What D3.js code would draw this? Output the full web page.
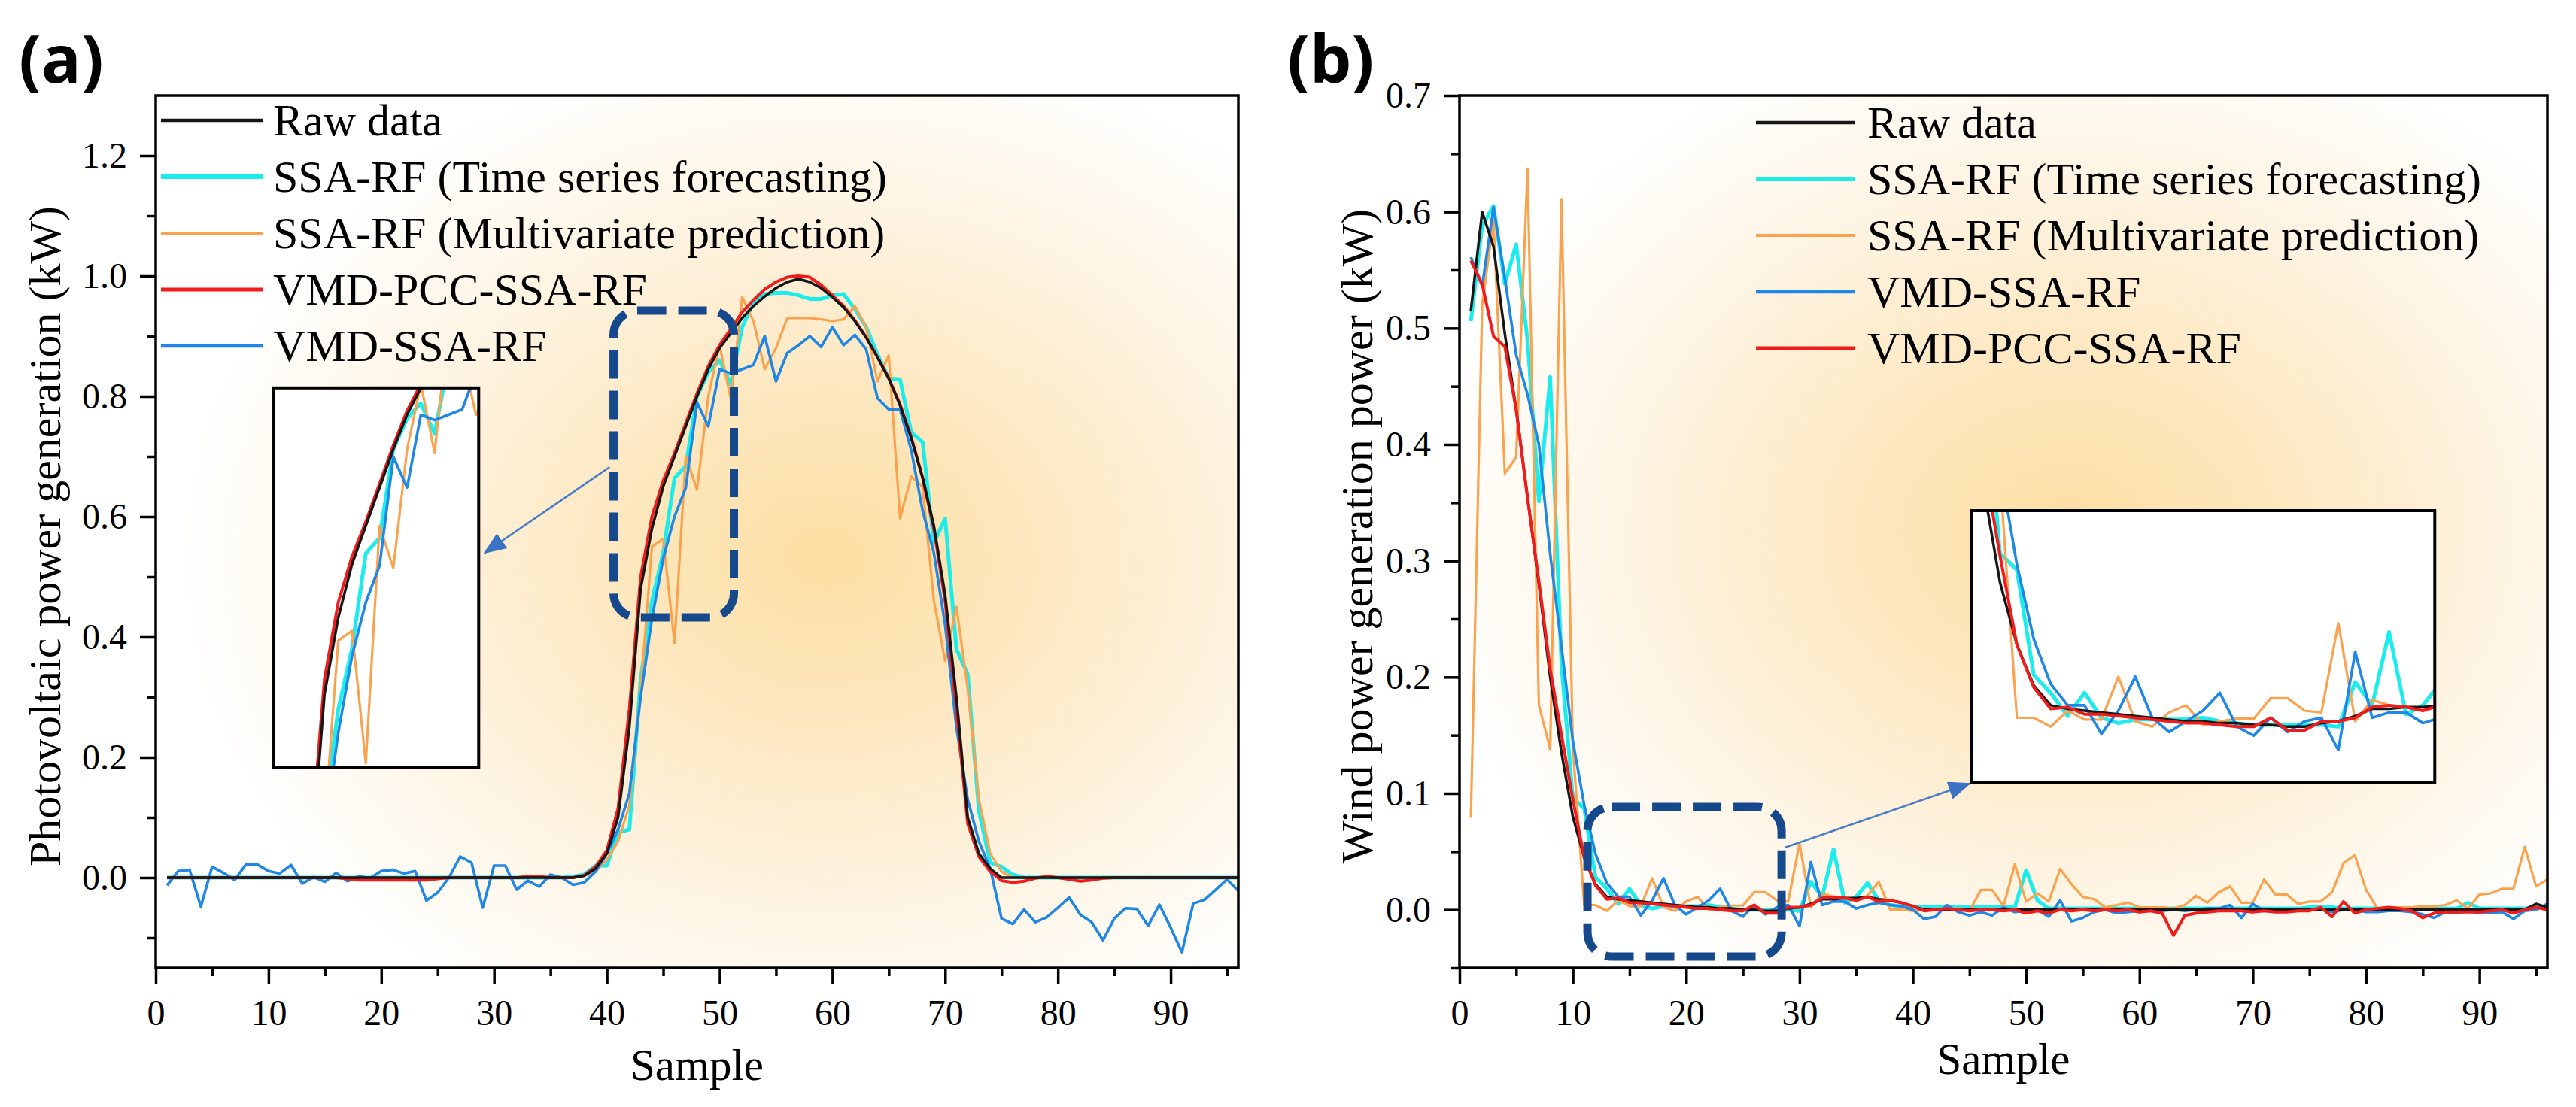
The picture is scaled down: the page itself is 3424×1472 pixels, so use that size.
<!DOCTYPE html>
<html>
<head>
<meta charset="utf-8">
<script src="https://cdn.jsdelivr.net/npm/d3@7"></script>
<style>
  body { margin: 0; background: #fff; }
</style>
</head>
<body>
<svg id="chart" width="3424" height="1472"></svg>
<script>
'use strict';

// ---- data ----
const samples = d3.range(1, 97);               // sample index 1..96
const sampleTicks = [0, 10, 20, 30, 40, 50, 60, 70, 80, 90];
const sampleMinor = [5, 15, 25, 35, 45, 55, 65, 75, 85, 95];
const pvTicks = [0, 0.2, 0.4, 0.6, 0.8, 1.0, 1.2];
const pvMinor = [-0.1, 0.1, 0.3, 0.5, 0.7, 0.9, 1.1];
const windTicks = [0, 0.1, 0.2, 0.3, 0.4, 0.5, 0.6, 0.7];
const windMinor = [-0.05, 0.05, 0.15, 0.25, 0.35, 0.45, 0.55, 0.65];

// (a) photovoltaic
const pvRaw = [
  0, 0, 0, 0, 0, 0, 0, 0, 0, 0,
  0, 0, 0, 0, 0, 0, 0, 0, 0, 0,
  0, 0, 0, 0, 0, 0, 0, 0, 0, 0,
  0, 0, 0, 0, 0, 0, 0, 0.003, 0.015, 0.04,
  0.1, 0.25, 0.48, 0.58, 0.65, 0.70, 0.75, 0.80, 0.845, 0.88,
  0.905, 0.93, 0.95, 0.966, 0.98, 0.99, 0.995, 0.99, 0.98, 0.965,
  0.948, 0.925, 0.898, 0.865, 0.83, 0.785, 0.73, 0.665, 0.585, 0.47,
  0.30, 0.10, 0.04, 0.015, 0, 0, 0, 0, 0, 0,
  0, 0, 0, 0, 0, 0, 0, 0, 0, 0,
  0, 0, 0, 0, 0, 0
];
const pvSsaTs = [
  0, 0, 0, 0, 0, 0, 0, 0, 0, 0,
  0, 0, 0, 0, 0, 0, 0, 0, 0, 0,
  0, 0, 0, 0, 0, 0, 0, 0, 0, 0,
  0, 0, 0, 0, 0, 0, 0.002, 0.005, 0.02, 0.02,
  0.075, 0.08, 0.33, 0.46, 0.54, 0.664, 0.684, 0.8, 0.84, 0.86,
  0.82, 0.915, 0.955, 0.97, 0.972, 0.972, 0.968, 0.962, 0.962, 0.968,
  0.97, 0.945, 0.915, 0.87, 0.83, 0.828, 0.74, 0.724, 0.556, 0.597,
  0.38, 0.338, 0.11, 0.025, 0.018, 0.005, 0, 0, 0, 0,
  0, 0, 0, 0, 0, 0, 0, 0, 0, 0,
  0, 0, 0, 0, 0, 0
];
const pvSsaMv = [
  0, 0, 0, 0, 0, 0, 0, 0, 0, 0,
  0, 0, 0, 0, 0, 0, 0, 0, 0, 0,
  0, 0, 0, 0, 0, 0, 0, 0, 0, 0,
  0, 0, 0, 0, 0, 0, 0, 0.003, 0.01, 0.03,
  0.06, 0.12, 0.31, 0.55, 0.563, 0.39, 0.70, 0.645, 0.8, 0.885,
  0.795, 0.965, 0.925, 0.845, 0.88, 0.93, 0.93, 0.93, 0.928, 0.925,
  0.928, 0.95, 0.915, 0.825, 0.868, 0.597, 0.667, 0.65, 0.46, 0.36,
  0.45, 0.314, 0.13, 0.04, 0.01, 0, 0, 0, 0, 0,
  0, 0, 0, 0, 0, 0, 0, 0, 0, 0,
  0, 0, 0, 0, 0, 0
];
const pvVmdPcc = [
  0, 0, 0, 0, 0, 0, 0, 0, 0, 0,
  0, 0, 0, 0, 0, 0, -0.002, -0.004, -0.004, -0.004,
  -0.004, -0.004, -0.004, -0.004, -0.002, 0, 0, 0, 0, 0,
  0, 0, 0.002, 0.002, 0, 0, 0, 0.004, 0.018, 0.045,
  0.115, 0.28, 0.5, 0.6, 0.66, 0.705, 0.755, 0.805, 0.85, 0.885,
  0.912, 0.94, 0.96, 0.978, 0.99, 0.998, 1.0, 0.998, 0.985, 0.968,
  0.95, 0.926, 0.898, 0.865, 0.83, 0.787, 0.732, 0.665, 0.58, 0.46,
  0.28, 0.09, 0.035, 0.01, -0.005, -0.008, -0.006, -0.001, 0.002, 0,
  -0.003, -0.006, -0.004, -0.001, 0, 0, 0, 0, 0, 0,
  0, 0, 0, 0, 0, 0
];
const pvVmdSsa = [
  -0.013, 0.011, 0.013, -0.048, 0.018, 0.008, -0.004, 0.022, 0.022, 0.011,
  0.007, 0.021, -0.01, 0.001, -0.007, 0.008, -0.006, 0.002, -0.001, 0.011,
  0.013, 0.007, 0.011, -0.038, -0.025, 0.0, 0.035, 0.025, -0.05, 0.02,
  0.02, -0.02, -0.005, -0.015, 0.005, 0.0, -0.012, -0.008, 0.01, 0.04,
  0.08, 0.14, 0.3, 0.43, 0.53, 0.6, 0.648, 0.79, 0.75, 0.845,
  0.838, 0.845, 0.852, 0.9, 0.825, 0.872, 0.885, 0.9, 0.882, 0.915,
  0.885, 0.902, 0.878, 0.797, 0.778, 0.778, 0.71, 0.61, 0.54, 0.42,
  0.25, 0.13, 0.06, 0.015, -0.068, -0.077, -0.053, -0.074, -0.066, -0.05,
  -0.033, -0.062, -0.074, -0.104, -0.068, -0.051, -0.052, -0.08, -0.045, -0.083,
  -0.124, -0.043, -0.037, -0.02, -0.003, -0.022
];

// (b) wind
const windRaw = [
  0.515, 0.60, 0.57, 0.495, 0.43, 0.355, 0.28, 0.2, 0.135, 0.08,
  0.045, 0.022, 0.011, 0.009, 0.008, 0.007, 0.006, 0.005, 0.004, 0.003,
  0.002, 0.002, 0.001, 0.001, 0, 0, -0.001, -0.001, 0.001, 0.002,
  0.005, 0.009, 0.009, 0.01, 0.01, 0.011, 0.009, 0.008, 0.006, 0.003,
  0, 0, 0, 0, 0, 0, 0, 0, 0, 0,
  0, 0, 0, 0, 0, 0, 0, 0, 0, 0,
  0, 0, 0, 0, 0, 0, 0, 0, 0, 0,
  0, 0, 0, 0, 0, 0, 0, 0, 0, 0,
  0, 0, 0, 0, 0, 0, 0, 0, 0, 0,
  0, 0, 0, 0, 0.005, 0.002
];
const windSsaTs = [
  0.506, 0.588, 0.605, 0.538, 0.572, 0.49, 0.351, 0.458, 0.21, 0.096,
  0.087, 0.028, 0.018, 0.005, 0.018, 0.004, 0.001, 0.003, 0.003, 0.003,
  0.003, 0.004, 0.002, 0.001, 0, 0, 0, 0, 0, -0.001,
  0.024, 0.011, 0.052, 0.006, 0.011, 0.023, 0.008, 0.004, 0.003, 0.003,
  0.002, 0.002, 0.002, 0.002, 0.002, 0.002, 0.002, 0.002, 0.002, 0.034,
  0.008, 0.001, 0.001, 0.001, 0.001, 0.001, 0.001, 0.001, 0.001, 0.001,
  0.001, 0.001, 0.001, 0.001, 0.001, 0.001, 0.001, 0.001, 0.001, 0.001,
  0.001, 0.001, 0.001, 0.001, 0.002, 0.002, 0.002, 0.001, 0.001, 0.001,
  0.001, 0.001, 0.001, 0.001, 0.001, 0.001, 0.001, 0.001, 0.006, 0.001,
  0.001, 0.001, 0.001, 0.001, 0.002, 0.003
];
const windSsaMv = [
  0.079, 0.52, 0.592, 0.375, 0.389, 0.637, 0.176, 0.138, 0.611, 0.14,
  0.004, 0.004, -0.001, 0.008, 0.003, 0.003, 0.027, 0.002, -0.001, 0.007,
  0.011, 0.0, 0.002, 0.0035, 0.0035, 0.015, 0.015, 0.008, 0.007, 0.057,
  0.002, 0.014, 0.011, 0.01, 0.008, 0.012, 0.024, 0.0, 0.0, -0.001,
  0.001, 0.0, 0.001, 0.001, -0.001, 0.017, 0.017, 0.003, 0.039, 0.007,
  0.014, 0.007, 0.035, 0.022, 0.011, 0.009, 0.002, 0.004, 0.006, 0.002,
  0.002, 0.002, 0.001, 0.004, 0.012, 0.006, 0.015, 0.02, 0.006, 0.006,
  0.026, 0.013, 0.013, 0.005, 0.007, 0.007, 0.015, 0.04, 0.047, 0.017,
  0.001, 0.002, 0.002, 0.002, 0.003, 0.003, 0.004, 0.008, 0.001, 0.013,
  0.014, 0.018, 0.018, 0.054, 0.02, 0.026
];
const windVmdSsa = [
  0.561, 0.536, 0.604, 0.543, 0.477, 0.443, 0.40, 0.306, 0.226, 0.145,
  0.09, 0.048, 0.023, 0.011, 0.011, -0.005, 0.008, 0.027, 0.004, -0.004,
  0.002, 0.008, 0.018, -0.001, -0.006, 0.004, -0.004, 0.002, 0.004, -0.014,
  0.041, 0.004, 0.007, 0.007, 0.001, 0.004, 0.006, 0.004, 0.003, 0.0,
  -0.008, -0.006, 0.004, -0.002, -0.005, -0.002, -0.005, 0.002, -0.002, -0.001,
  0.0, -0.006, 0.008, -0.01, -0.007, -0.002, 0.0, -0.003, -0.002, -0.001,
  0.0, -0.001, 0.0, -0.001, 0.0, 0.001, 0.001, 0.004, -0.007, 0.005,
  -0.001, -0.001, -0.001, 0.0, 0.0, 0.0, -0.002, 0.0, 0.0, -0.002,
  -0.002, -0.001, -0.001, -0.002, -0.004, -0.007, -0.002, -0.003, -0.001, -0.003,
  -0.003, -0.002, -0.008, -0.001, 0.0, 0.005
];
const windVmdPcc = [
  0.558, 0.538, 0.493, 0.484, 0.43, 0.354, 0.283, 0.207, 0.15, 0.095,
  0.045, 0.021, 0.009, 0.01, 0.006, 0.006, 0.005, 0.004, 0.003, 0.002,
  0.001, 0.001, 0.0, -0.001, -0.001, 0.004, -0.003, -0.003, 0.002, 0.002,
  0.004, 0.01, 0.011, 0.01, 0.008, 0.011, 0.007, 0.008, 0.006, 0.003,
  -0.001, 0.0, 0.001, 0.0, -0.001, 0.0, 0.0, -0.001, 0.0, -0.003,
  -0.001, -0.003, 0.0, -0.001, 0.0, -0.001, 0.0, -0.001, 0.0, -0.002,
  -0.001, -0.003, -0.022, -0.005, -0.003, -0.002, -0.001, -0.001, -0.001, -0.002,
  -0.001, -0.002, -0.002, -0.001, -0.001, 0.002, -0.006, 0.007, -0.003, 0.0,
  0.001, 0.002, 0.001, -0.001, -0.007, -0.003, -0.002, -0.002, -0.002, -0.002,
  -0.001, 0.0, -0.003, 0.0, 0.002, 0.0
];

// ---- styling of each model ----
const style = {
  raw:  {color: "#161616", width: 3.5},
  ts:   {color: "#1CECEC", width: 5},
  mv:   {color: "#FBA24E", width: 3.2},
  pcc:  {color: "#F21B1B", width: 4},
  vmd:  {color: "#1F87E5", width: 3.6}
};

const pvSeries = [
  {key: "raw", name: "Raw data", values: pvRaw},
  {key: "ts", name: "SSA-RF (Time series forecasting)", values: pvSsaTs},
  {key: "mv", name: "SSA-RF (Multivariate prediction)", values: pvSsaMv},
  {key: "pcc", name: "VMD-PCC-SSA-RF", values: pvVmdPcc},
  {key: "vmd", name: "VMD-SSA-RF", values: pvVmdSsa}
];
const windSeries = [
  {key: "raw", name: "Raw data", values: windRaw},
  {key: "ts", name: "SSA-RF (Time series forecasting)", values: windSsaTs},
  {key: "mv", name: "SSA-RF (Multivariate prediction)", values: windSsaMv},
  {key: "vmd", name: "VMD-SSA-RF", values: windVmdSsa},
  {key: "pcc", name: "VMD-PCC-SSA-RF", values: windVmdPcc}
];

const serif = '"Liberation Serif", "Times New Roman", serif';

let svg = d3.select("#chart");
let defs = svg.append("defs");
svg.append("rect").attr("width", 3424).attr("height", 1472).attr("fill", "#fff");

// arrow head for the zoom pointers
defs.append("marker")
  .attr("id", "arrowhead")
  .attr("viewBox", "0 0 30 24")
  .attr("refX", 28).attr("refY", 12)
  .attr("markerWidth", 30).attr("markerHeight", 24)
  .attr("markerUnits", "userSpaceOnUse")
  .attr("orient", "auto")
  .append("path")
  .attr("d", "M0,0 L30,12 L0,24 Z")
  .attr("fill", "#3b72c6");

function drawLines(parent, series, order, xs, ys, clipId) {
  let line = d3.line()
    .x((d, i) => xs(samples[i]))
    .y(d => ys(d));
  let lg = parent.append("g").attr("clip-path", `url(#${clipId})`);
  order.forEach(k => {
    let s = series.find(e => e.key === k);
    lg.append("path")
      .datum(s.values)
      .attr("d", line)
      .attr("fill", "none")
      .attr("stroke", style[k].color)
      .attr("stroke-width", style[k].width)
      .attr("stroke-linejoin", "round");
  });
}

function drawPanel(p) {
  let x = d3.scaleLinear().domain([0, 96]).range([p.left, p.right]);
  let y = d3.scaleLinear().domain(p.yDomain).range([p.bottom, p.top]);
  let g = svg.append("g");

  // soft yellow glow behind the curves
  let grad = defs.append("radialGradient")
    .attr("id", "glow-" + p.id)
    .attr("cx", p.glow.cx).attr("cy", p.glow.cy).attr("r", p.glow.r);
  grad.append("stop").attr("offset", 0).attr("stop-color", "#FCDFA2");
  grad.append("stop").attr("offset", 0.35).attr("stop-color", "#FDE8C2");
  grad.append("stop").attr("offset", 0.7).attr("stop-color", "#FEF5E5");
  grad.append("stop").attr("offset", 1).attr("stop-color", "#FFFFFF");
  g.append("rect")
    .attr("x", p.left).attr("y", p.top)
    .attr("width", p.right - p.left).attr("height", p.bottom - p.top)
    .attr("fill", `url(#glow-${p.id})`);

  defs.append("clipPath").attr("id", "clip-" + p.id)
    .append("rect")
    .attr("x", p.left).attr("y", p.top)
    .attr("width", p.right - p.left).attr("height", p.bottom - p.top);

  drawLines(g, p.series, p.order, x, y, "clip-" + p.id);

  // frame
  g.append("rect")
    .attr("x", p.left).attr("y", p.top)
    .attr("width", p.right - p.left).attr("height", p.bottom - p.top)
    .attr("fill", "none").attr("stroke", "#000").attr("stroke-width", 3.5);

  // axes: labelled majors + short minors
  let axes = [
    {gen: d3.axisLeft(y).tickValues(p.yTicks).tickSize(21).tickPadding(17).tickFormat(d3.format(".1f")), tr: `translate(${p.left},0)`},
    {gen: d3.axisLeft(y).tickValues(p.yMinor).tickSize(11).tickFormat(""), tr: `translate(${p.left},0)`},
    {gen: d3.axisBottom(x).tickValues(sampleTicks).tickSize(22).tickPadding(20).tickFormat(d3.format("d")), tr: `translate(0,${p.bottom})`},
    {gen: d3.axisBottom(x).tickValues(sampleMinor).tickSize(11).tickFormat(""), tr: `translate(0,${p.bottom})`}
  ];
  axes.forEach(a => {
    let ag = g.append("g").attr("transform", a.tr).call(a.gen);
    ag.attr("font-family", serif).attr("font-size", 48);
    ag.select(".domain").remove();
    ag.selectAll(".tick line").attr("stroke", "#000").attr("stroke-width", 3.5);
    ag.selectAll(".tick text").attr("fill", "#000");
  });

  // axis titles
  g.append("text")
    .attr("transform", `translate(${p.yLabelX},${(p.top + p.bottom) / 2 + 6}) rotate(-90)`)
    .attr("text-anchor", "middle")
    .attr("font-family", serif).attr("font-size", 60)
    .text(p.yLabel);
  g.append("text")
    .attr("x", (p.left + p.right) / 2).attr("y", p.sampleY)
    .attr("text-anchor", "middle")
    .attr("font-family", serif).attr("font-size", 59)
    .text("Sample");

  // panel tag
  g.append("text")
    .attr("x", p.tagX).attr("y", 110)
    .attr("font-family", '"Open Sans", "DejaVu Sans", sans-serif')
    .attr("font-weight", 700).attr("font-size", 88)
    .text(p.tag);

  // legend
  let leg = g.append("g");
  p.series.forEach((s, i) => {
    let ry = p.legend.rowY + i * 75;
    leg.append("line")
      .attr("x1", p.legend.lineX[0]).attr("x2", p.legend.lineX[1])
      .attr("y1", ry).attr("y2", ry)
      .attr("stroke", style[s.key].color)
      .attr("stroke-width", style[s.key].width + 0.8);
    leg.append("text")
      .attr("x", p.legend.textX).attr("y", ry + 20)
      .attr("font-family", serif).attr("font-size", 60)
      .text(s.name);
  });

  // dashed zoom region
  let zb = p.zoomBox;
  g.append("rect")
    .attr("x", x(zb.x[0])).attr("y", y(zb.y[1]))
    .attr("width", x(zb.x[1]) - x(zb.x[0]))
    .attr("height", y(zb.y[0]) - y(zb.y[1]))
    .attr("rx", 32).attr("ry", 32)
    .attr("fill", "none")
    .attr("stroke", "#16498b").attr("stroke-width", 11)
    .attr("stroke-dasharray", "38,16");

  // pointer arrow
  g.append("line")
    .attr("x1", x(p.arrow.from[0])).attr("y1", y(p.arrow.from[1]))
    .attr("x2", x(p.arrow.to[0])).attr("y2", y(p.arrow.to[1]))
    .attr("stroke", "#4a7cc8").attr("stroke-width", 2.6)
    .attr("marker-end", "url(#arrowhead)");

  // inset with magnified view
  let ins = p.inset;
  let bx0 = x(ins.x[0]), bx1 = x(ins.x[1]);
  let byTop = y(ins.y[1]), byBot = y(ins.y[0]);
  let ix = d3.scaleLinear().domain(ins.xDomain).range([bx0, bx1]);
  let iy = d3.scaleLinear().domain(ins.yDomain).range([byBot, byTop]);
  defs.append("clipPath").attr("id", "iclip-" + p.id)
    .append("rect")
    .attr("x", bx0).attr("y", byTop)
    .attr("width", bx1 - bx0).attr("height", byBot - byTop);
  g.append("rect")
    .attr("x", bx0).attr("y", byTop)
    .attr("width", bx1 - bx0).attr("height", byBot - byTop)
    .attr("fill", "#fff");
  drawLines(g, p.series, p.order, ix, iy, "iclip-" + p.id);
  g.append("rect")
    .attr("x", bx0).attr("y", byTop)
    .attr("width", bx1 - bx0).attr("height", byBot - byTop)
    .attr("fill", "none").attr("stroke", "#000").attr("stroke-width", 4);
}

drawPanel({
  id: "a", tag: "(a)", tagX: 25,
  left: 207, right: 1646, top: 127, bottom: 1287,
  yDomain: [-0.15, 1.3], yTicks: pvTicks, yMinor: pvMinor,
  yLabel: "Photovoltaic power generation (kW)", yLabelX: 80, sampleY: 1436,
  glow: {cx: 0.62, cy: 0.53, r: 0.6},
  series: pvSeries, order: ["ts", "mv", "vmd", "pcc", "raw"],
  legend: {lineX: [214, 349], textX: 363, rowY: 160},
  zoomBox: {x: [40.6, 51.27], y: [0.4325, 0.9425]},
  arrow: {from: [40.25, 0.6825], to: [29.17, 0.54]},
  inset: {x: [10.41, 28.64], y: [0.1825, 0.814], xDomain: [39.27, 54.2], yDomain: [0.384, 0.88]}
});

drawPanel({
  id: "b", tag: "(b)", tagX: 1711,
  left: 1940, right: 3386, top: 127, bottom: 1287,
  yDomain: [-0.05, 0.7], yTicks: windTicks, yMinor: windMinor,
  yLabel: "Wind power generation power (kW)", yLabelX: 1824, sampleY: 1428,
  glow: {cx: 0.56, cy: 0.5, r: 0.6},
  series: windSeries, order: ["ts", "mv", "vmd", "raw", "pcc"],
  legend: {lineX: [2334, 2466], textX: 2482, rowY: 163},
  zoomBox: {x: [11.29, 28.42], y: [-0.0403, 0.0884]},
  arrow: {from: [28.69, 0.0535], to: [45.02, 0.1084]},
  inset: {x: [45.15, 86.06], y: [0.1097, 0.3431], xDomain: [8.3, 35.7], yDomain: [-0.032, 0.12]}
});
</script>
</body>
</html>
